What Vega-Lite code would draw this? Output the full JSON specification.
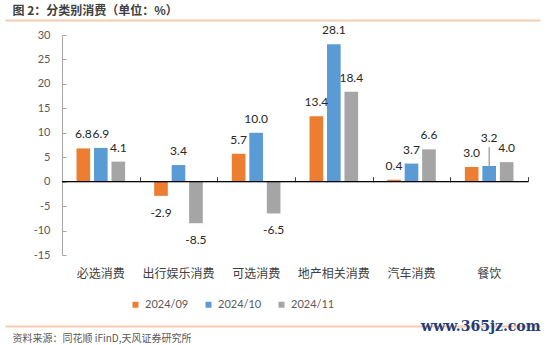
{
  "$schema": "https://vega.github.io/schema/vega-lite/v6.json",
  "width": 535,
  "height": 220,
  "autosize": {"type": "none"},
  "padding": {"left": 5, "top": 35, "right": 10, "bottom": 90},
  "background": "white",
  "config": {"view": {"stroke": null}, "font": "Lato, Noto Sans CJK SC", "axis": {"grid": false},
    "axisY": {"labelOverlap": false, "labelFlush": false},
    "locale": {"number": {"decimal": ".", "thousands": ",", "grouping": [3], "currency": ["", ""], "minus": "-"}}},
  "data": {"values": [
    {"cat": "必选消费", "series": "2024/09", "value": 6.8},
    {"cat": "必选消费", "series": "2024/10", "value": 6.9},
    {"cat": "必选消费", "series": "2024/11", "value": 4.1},
    {"cat": "出行娱乐消费", "series": "2024/09", "value": -2.9},
    {"cat": "出行娱乐消费", "series": "2024/10", "value": 3.4},
    {"cat": "出行娱乐消费", "series": "2024/11", "value": -8.5},
    {"cat": "可选消费", "series": "2024/09", "value": 5.7},
    {"cat": "可选消费", "series": "2024/10", "value": 10.0},
    {"cat": "可选消费", "series": "2024/11", "value": -6.5},
    {"cat": "地产相关消费", "series": "2024/09", "value": 13.4},
    {"cat": "地产相关消费", "series": "2024/10", "value": 28.1},
    {"cat": "地产相关消费", "series": "2024/11", "value": 18.4},
    {"cat": "汽车消费", "series": "2024/09", "value": 0.4},
    {"cat": "汽车消费", "series": "2024/10", "value": 3.7},
    {"cat": "汽车消费", "series": "2024/11", "value": 6.6},
    {"cat": "餐饮", "series": "2024/09", "value": 3.0},
    {"cat": "餐饮", "series": "2024/10", "value": 3.2},
    {"cat": "餐饮", "series": "2024/11", "value": 4.0}
  ]},
  "resolve": {"axis": {"x": "independent"}},
  "encoding": {
    "y": {"field": "value", "type": "quantitative",
      "scale": {"domain": [-15, 30], "nice": false, "zero": false},
      "axis": {"values": [-15, -10, -5, 0, 5, 10, 15, 20, 25, 30], "format": "d", "labelOverlap": false, "offset": -57,
        "domainColor": "#a6a6a6", "tickColor": "#a6a6a6",
        "tickSize": -4, "labelPadding": 16, "labelColor": "#595959", "labelFont": "Lato", "labelFontSize": 11, "title": null}}
  },
  "layer": [
    {
      "mark": {"type": "bar"},
      "encoding": {
        "x": {"field": "cat", "type": "nominal", "sort": null,
          "scale": {"paddingInner": 0, "paddingOuter": 0.444, "align": 0.826},
          "axis": {"orient": "top", "offset": 15, "domainColor": "#F8CBAD", "domainWidth": 2, "ticks": false, "labels": false,
            "title": "图 2：分类别消费（单位：%）", "titleX": 7, "titleY": -10, "titleAlign": "left", "titleAnchor": "start", "titleBaseline": "middle",
            "titleFont": "Noto Sans CJK SC", "titleFontSize": 12, "titleFontWeight": "bold", "titleColor": "#404040"}},
        "xOffset": {"field": "series", "type": "nominal", "scale": {"paddingInner": 0.22, "paddingOuter": 0.83}},
        "color": {"field": "series", "type": "nominal",
          "scale": {"domain": ["2024/09", "2024/10", "2024/11"], "range": ["#ED7D31", "#5B9BD5", "#A5A5A5"]},
          "legend": {"title": null, "orient": "none", "legendX": 125, "legendY": 264, "direction": "horizontal",
            "symbolType": "square", "symbolSize": 36, "symbolStrokeWidth": 0, "labelFontSize": 11, "labelColor": "#595959",
            "labelFont": "Lato", "columnPadding": 14, "labelOffset": 4, "padding": 0}}
      }
    },
    {
      "transform": [{"filter": "datum.value >= 0 && !(datum.cat == '餐饮' && datum.series == '2024/10')"}],
      "mark": {"type": "text", "baseline": "alphabetic", "dy": -10, "fontSize": 12, "color": "#262626", "font": "Lato"},
      "encoding": {
        "x": {"field": "cat", "type": "nominal", "sort": null,
          "axis": {"orient": "bottom", "offset": 71, "domainColor": "#F8CBAD", "domainWidth": 2, "ticks": false, "tickSize": 0,
            "labelPadding": -53, "labelBaseline": "middle", "labelFont": "Noto Sans CJK SC", "labelFontSize": 12, "labelColor": "#404040",
            "labelAngle": 0, "labelOverlap": false,
            "title": "资料来源：同花顺 iFinD,天风证券研究所", "titleX": 7, "titleY": 12, "titleAlign": "left", "titleAnchor": "start",
            "titleBaseline": "middle", "titleFont": "Noto Sans CJK SC", "titleFontSize": 10, "titleFontWeight": "normal", "titleColor": "#595959"}},
        "xOffset": {"field": "series", "type": "nominal"},
        "text": {"field": "value", "type": "quantitative", "format": ".1f"}
      }
    },
    {
      "transform": [{"filter": "datum.value < 0"}],
      "mark": {"type": "text", "baseline": "top", "dy": 12, "fontSize": 12, "color": "#262626", "font": "Lato"},
      "encoding": {
        "x": {"field": "cat", "type": "nominal", "sort": null,
          "axis": {"orient": "bottom", "offset": -73.3, "domain": false, "ticks": true, "tickBand": "extent", "tickSize": -5,
            "tickColor": "#404040", "labels": false,
            "title": "www.365jz.com", "titleX": 535, "titleY": 145, "titleAlign": "right", "titleBaseline": "middle",
            "titleFont": "DejaVu Serif", "titleFontSize": 14, "titleFontWeight": "bold", "titleColor": "#1F3D7A"}},
        "xOffset": {"field": "series", "type": "nominal"},
        "text": {"field": "value", "type": "quantitative", "format": ".1f"}
      }
    },
    {
      "transform": [{"filter": "datum.series == '2024/09'"}],
      "mark": {"type": "rect", "filled": false, "stroke": "#000000", "strokeWidth": 1},
      "encoding": {
        "x": {"field": "cat", "type": "nominal", "sort": null, "axis": null},
        "y": {"datum": 0, "type": "quantitative", "axis": {"values": [-15, -10, -5, 0, 5, 10, 15, 20, 25, 30], "format": "d", "labelOverlap": false, "offset": -57,
          "domainColor": "#a6a6a6", "tickColor": "#a6a6a6",
          "tickSize": -4, "labelPadding": 16, "labelColor": "#595959", "labelFont": "Lato", "labelFontSize": 11, "title": null}},
        "y2": {"datum": 0}
      }
    },
    {
      "transform": [{"filter": "datum.cat == '餐饮' && datum.series == '2024/10'"}],
      "mark": {"type": "rule", "color": "#7f7f7f", "strokeWidth": 1, "y2Offset": -19},
      "encoding": {
        "x": {"field": "cat", "type": "nominal", "sort": null, "axis": null},
        "xOffset": {"field": "series", "type": "nominal"},
        "y2": {"field": "value"}
      }
    },
    {
      "transform": [{"filter": "datum.cat == '餐饮' && datum.series == '2024/10'"}],
      "mark": {"type": "text", "baseline": "alphabetic", "dy": -24, "fontSize": 12, "color": "#262626", "font": "Lato"},
      "encoding": {
        "x": {"field": "cat", "type": "nominal", "sort": null, "axis": null},
        "xOffset": {"field": "series", "type": "nominal"},
        "text": {"field": "value", "type": "quantitative", "format": ".1f"}
      }
    }
  ]
}
